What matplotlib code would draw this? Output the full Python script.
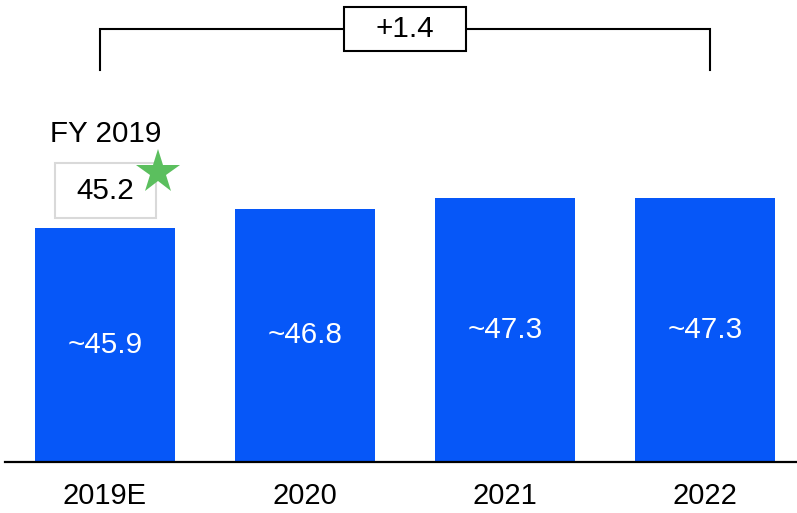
import matplotlib
matplotlib.use("Agg")
import matplotlib.pyplot as plt
from matplotlib.patches import Rectangle

categories = ["2019E", "2020", "2021", "2022"]
values = [45.9, 46.8, 47.3, 47.3]
value_labels = ["~45.9", "~46.8", "~47.3", "~47.3"]
delta_label = "+1.4"
fy_label = "FY 2019"
fy_value = "45.2"

plt.rcParams['font.family'] = ['Liberation Sans', 'DejaVu Sans']

W, H = 797, 513
fig = plt.figure(figsize=(W / 100, H / 100), dpi=100)
ax = fig.add_axes([5 / W, (H - 462) / H, 792 / W, 462 / H])

y0, y1 = 35.19, 56.38
ax.set_xlim(-0.5, 3.46)
ax.set_ylim(y0, y1)

blue = "#0657F8"
fs = 21.3
x = list(range(len(categories)))
ax.bar(x, values, width=0.7, color=blue, zorder=2)

for xi, v, lab in zip(x, values, value_labels):
    ax.text(xi, (y0 + v) / 2, lab, ha="center", va="center", color="white", fontsize=fs, zorder=3)

for s in ["top", "right", "left"]:
    ax.spines[s].set_visible(False)
ax.spines["bottom"].set_linewidth(1.6)
ax.spines["bottom"].set_color("black")
ax.set_yticks([])
ax.set_xticks(x)
ax.set_xticklabels(categories, fontsize=21)
ax.tick_params(axis="x", length=0, pad=14.5)

# bracket
yb, yv = 55.05, 53.17
ax.plot([-0.025, -0.025, 3.025, 3.025], [yv, yb, yb, yv], color="black", lw=1.5, clip_on=False, zorder=1,
        solid_joinstyle="miter")
ax.add_patch(Rectangle((1.195, yb - 1.03), 0.61, 2.06, facecolor="white", edgecolor="black", lw=1.5, zorder=4,
                       clip_on=False))
ax.text(1.5, yb, delta_label, ha="center", va="center", fontsize=fs, zorder=5)

# FY 2019 annotation
ax.text(-0.275, 50.24, fy_label, ha="left", va="center", fontsize=fs)
ax.add_patch(Rectangle((-0.2525, 47.64 - 1.26), 0.505, 2.52, facecolor="white", edgecolor="#d9d9d9", lw=1.5, zorder=4))
ax.text(0.0, 47.64, fy_value, ha="center", va="center", fontsize=fs, zorder=5)
ax.plot([0.265], [48.49], marker="*", markersize=33, color="#5BBF5E", markeredgewidth=0, zorder=6, clip_on=False)

fig.savefig("out.png", dpi=100)
